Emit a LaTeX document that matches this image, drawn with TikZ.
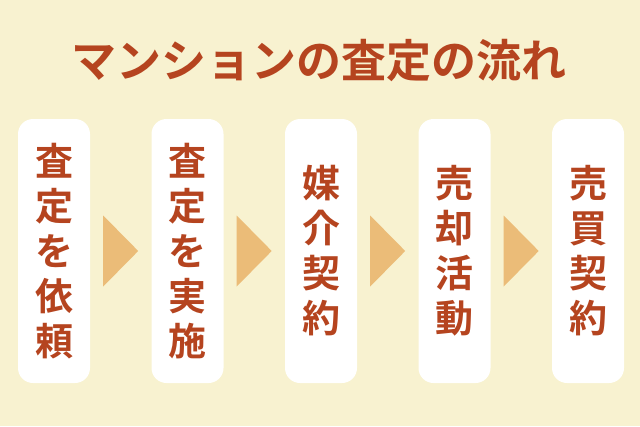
\documentclass[tikz,border=0pt]{standalone}
\usepackage{fontspec}
\newfontfamily\jpb{Noto Sans CJK JP Bold}
\usetikzlibrary{calc}
\definecolor{bgc}{HTML}{F8F2D0}
\definecolor{rust}{HTML}{B5441F}
\definecolor{tan}{HTML}{EBBC78}
\tikzset{
  stepbox/.style={fill=white, rounded corners=15pt, minimum width=72pt, minimum height=264pt, inner sep=0pt, draw=none},
  steptext/.style={text=rust, font=\jpb\fontsize{38pt}{45pt}\selectfont, align=center, inner sep=0pt},
  tri/.style={fill=tan, draw=none}
}
\begin{document}
\begin{tikzpicture}[x=1pt,y=-1pt]
\fill[bgc] (0,0) rectangle (640,426);
\useasboundingbox (0,0) rectangle (640,426);
\node[text=rust, font=\jpb\fontsize{45pt}{50pt}\selectfont, inner sep=0pt] (title) at (319,61) {マンションの査定の流れ};
\foreach \i/\x/\t in {1/54/{査\\定\\を\\依\\頼}, 2/187.5/{査\\定\\を\\実\\施}, 3/321/{媒\\介\\契\\約}, 4/454.5/{売\\却\\活\\動}, 5/588/{売\\買\\契\\約}}{
  \node[stepbox] (b\i) at (\x,251) {};
  \node[steptext] (t\i) at (\x,251) {\t};
}
\foreach \a/\b in {1/2,2/3,3/4,4/5}{
  \fill[tri] ($(b\a.east)+(13,-35.5)$) -- ($(b\a.east)+(48,0)$) -- ($(b\a.east)+(13,35.5)$) -- cycle;
}
\end{tikzpicture}
\end{document}
